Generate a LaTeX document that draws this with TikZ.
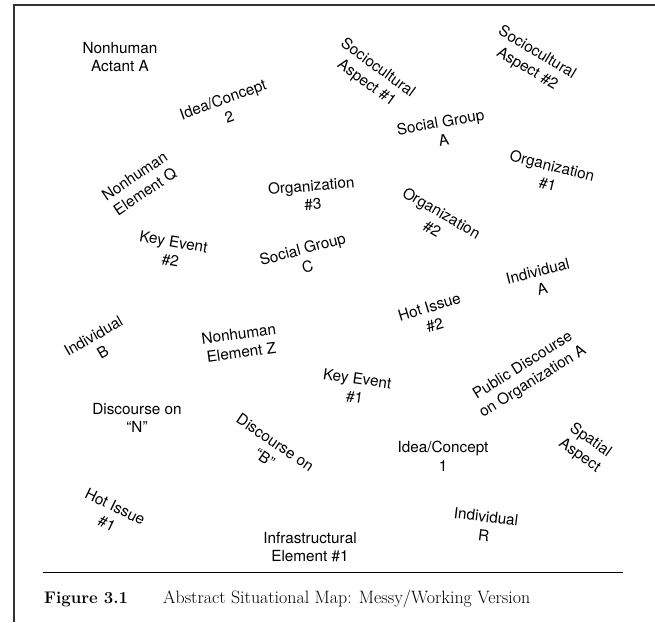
\documentclass[tikz,border=0pt]{standalone}
\usepackage{fontspec}
\setsansfont{TeX Gyre Heros}
\usetikzlibrary{positioning}
\tikzset{
  font=\sffamily,
  semithick,
  my item/.style={
    align=center,
    inner sep=0.5mm,
    font=\sffamily\fontsize{15.3}{18.8}\selectfont
  },
  my frame/.style={
    line width=1.2pt,
    draw=black!80
  },
  my rule/.style={
    line width=0.9pt
  },
  my caption/.style={
    anchor=base west,
    inner sep=0mm,
    font=\rmfamily\fontsize{17.9}{20}\selectfont
  }
}

\begin{document}
\begin{tikzpicture}[x=1pt,y=-1pt]
\useasboundingbox (0,0) rectangle (655,622);
% frame and rule
\draw[my frame] (14,622) -- (14,5) -- (655,5);
\coordinate (rl) at (43,572);
\coordinate (rr) at (623,572);
\draw[my rule] (rl) -- (rr);
% map items
\node[my item]            (nhA)  at (120,57)  {Nonhuman\\Actant A};
\node[my item,rotate=20]  (ic2)  at (226,108) {Idea/Concept\\2};
\node[my item,rotate=34]  (neQ)  at (140,184) {Nonhuman\\Element Q};
\node[my item,rotate=-36] (sa1)  at (372,76)  {Sociocultural\\Aspect \#1};
\node[my item,rotate=-31] (sa2)  at (532,61)  {Sociocultural\\Aspect \#2};
\node[my item,rotate=10]  (sgA)  at (442,131) {Social Group\\A};
\node[my item,rotate=-14] (org1) at (550,175) {Organization\\\#1};
\node[my item,rotate=5]   (org3) at (312,195) {Organization\\\#3};
\node[my item,rotate=-30] (org2) at (437,221) {Organization\\\#2};
\node[my item,rotate=-10] (ke2)  at (172,251) {Key Event\\\#2};
\node[my item,rotate=15]  (sgC)  at (305,258) {Social Group\\C};
\node[my item,rotate=14]  (indA) at (540,280) {Individual\\A};
\node[my item,rotate=17]  (hi2)  at (432,316) {Hot Issue\\\#2};
\node[my item,rotate=30]  (indB) at (98,344)  {Individual\\B};
\node[my item,rotate=8]   (neZ)  at (240,343) {Nonhuman\\Element Z};
\node[my item,rotate=-8]  (ke1)  at (356,388) {Key Event\\\#1};
\node[my item,rotate=32]  (pdo)  at (528,374) {Public Discourse\\on Organization A};
\node[my item]            (dN)   at (137,418) {Discourse on\\``N''};
\node[my item,rotate=-34] (dB)   at (270,450) {Discourse on\\``B''};
\node[my item,rotate=-26] (hi1)  at (111,515) {Hot Issue\\\#1};
\node[my item]            (ie1)  at (310,547) {Infrastructural\\Element \#1};
\node[my item]            (ic1)  at (443,456) {Idea/Concept\\1};
\node[my item,rotate=-35] (spA)  at (585,448) {Spatial\\Aspect};
\node[my item,rotate=-7]  (indR) at (485,526) {Individual\\R};
% caption
\node[my caption,font=\rmfamily\bfseries\fontsize{16.8}{20}\selectfont] (fig) at (44,603) {Figure 3.1};
\node[my caption] (title) at (163,603) {Abstract Situational Map: Messy/Working Version};
\end{tikzpicture}
\end{document}
